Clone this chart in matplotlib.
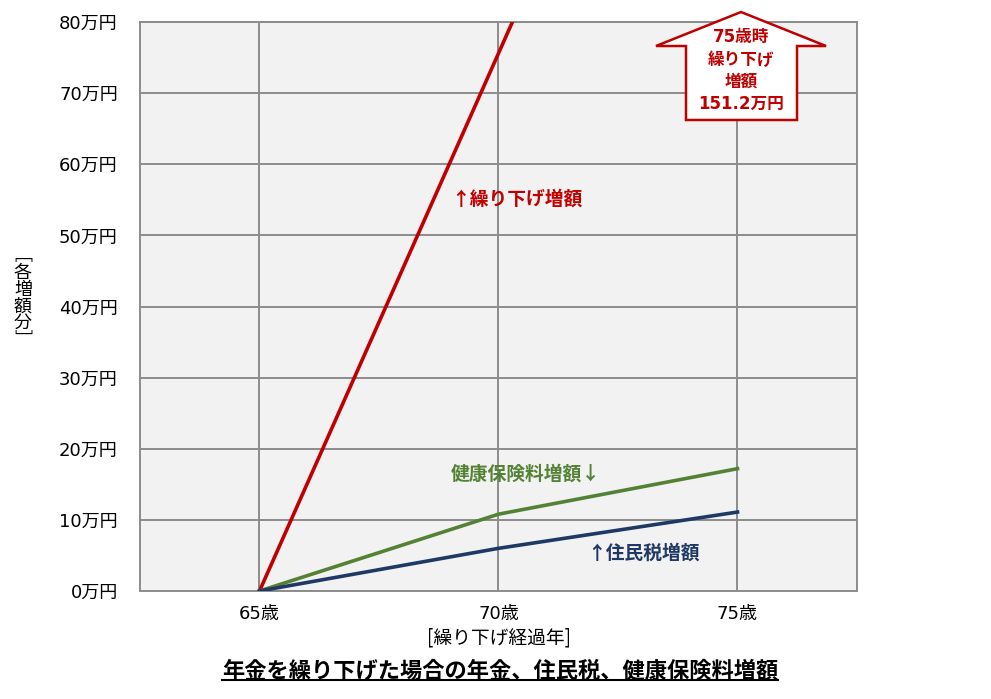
import numpy as np
import matplotlib
matplotlib.use("Agg")
import matplotlib.pyplot as plt
from matplotlib.patches import Polygon

plt.rcParams["font.family"] = ["DejaVu Sans", "Noto Sans CJK JP"]

# ── データ ─────────────────────────────────────────────
ages = [65, 70, 75]
age_labels = ["65歳", "70歳", "75歳"]
pension_up = [0, 75.6, 151.2]     # 繰り下げ増額
health_up = [0, 10.8, 17.2]       # 健康保険料増額
resident_up = [0, 6.0, 11.1]      # 住民税増額
y_ticks = [0, 10, 20, 30, 40, 50, 60, 70, 80]

RED = "#C00000"
GREEN = "#548235"
NAVY = "#1F3864"
GRID = "#8C8C8C"
JP = ["Noto Sans CJK JP", "DejaVu Sans"]

W, H = 991, 699
fig = plt.figure(figsize=(W / 100, H / 100), dpi=100, facecolor="white")
ax = fig.add_axes([140 / W, 1 - 591 / H, (857 - 140) / W, (591 - 22) / H])
ax.set_facecolor("#F2F2F2")

ax.plot(ages, pension_up, color=RED, lw=2.6, zorder=3)
ax.plot(ages, health_up, color=GREEN, lw=2.6, zorder=3)
ax.plot(ages, resident_up, color=NAVY, lw=2.6, zorder=3)

ax.set_xlim(62.5, 77.5)
ax.set_ylim(0, 80)
ax.set_xticks(ages)
ax.set_xticklabels(age_labels, fontsize=13)
ax.set_yticks(y_ticks)
ax.set_yticklabels([f"{v}万円" for v in y_ticks], fontsize=13)
ax.tick_params(axis="y", length=0, pad=16)
ax.tick_params(axis="x", length=0, pad=10)
ax.grid(True, color=GRID, lw=1.4)
ax.set_axisbelow(True)
for s in ax.spines.values():
    s.set_color(GRID)
    s.set_linewidth(1.4)

# 線のラベル
ax.text(69.0, 55.1, "↑繰り下げ増額", color=RED, fontsize=13.5, fontweight="bold",
        family=JP, va="center", ha="left", zorder=2)
ax.text(69.0, 16.5, "健康保険料増額↓", color=GREEN, fontsize=13.5, fontweight="bold",
        family=JP, va="center", ha="left", zorder=2)
ax.text(71.85, 5.3, "↑住民税増額", color=NAVY, fontsize=13.5, fontweight="bold",
        family=JP, va="center", ha="left", zorder=2)

# 75歳時の矢印ボックス
pts = [(656, 46), (741, 12), (826, 46), (797, 46), (797, 120), (686, 120), (686, 46)]
poly = Polygon([(x / W, 1 - y / H) for x, y in pts], closed=True,
               transform=fig.transFigure, facecolor="white", edgecolor=RED,
               lw=1.8, zorder=5)
fig.patches.append(poly)
for txt, y in [("75歳時", 37), ("繰り下げ", 60), ("増額", 82), ("151.2万円", 104)]:
    fig.text(741 / W, 1 - y / H, txt, color=RED, fontsize=12, fontweight="bold",
             ha="center", va="center", zorder=6)

# 軸ラベル
fig.text(23 / W, 1 - 298 / H, "﹇\n各\n増\n額\n分\n﹈", fontsize=13, family=JP,
         ha="center", va="center", linespacing=0.92)
fig.text(499 / W, 1 - 638 / H, "[繰り下げ経過年]", fontsize=13.5, family=JP,
         ha="center", va="center")

# タイトル(下線付き)
t = fig.text(500 / W, 1 - 671 / H, "年金を繰り下げた場合の年金、住民税、健康保険料増額",
             fontsize=16, fontweight="bold", family=JP, ha="center", va="center")
fig.canvas.draw()
bb = t.get_window_extent().transformed(fig.transFigure.inverted())
fig.add_artist(plt.Line2D([bb.x0, bb.x1], [bb.y0 + 0.003, bb.y0 + 0.003],
                          transform=fig.transFigure, color="black", lw=1.5))

fig.savefig("out.png", dpi=100)
